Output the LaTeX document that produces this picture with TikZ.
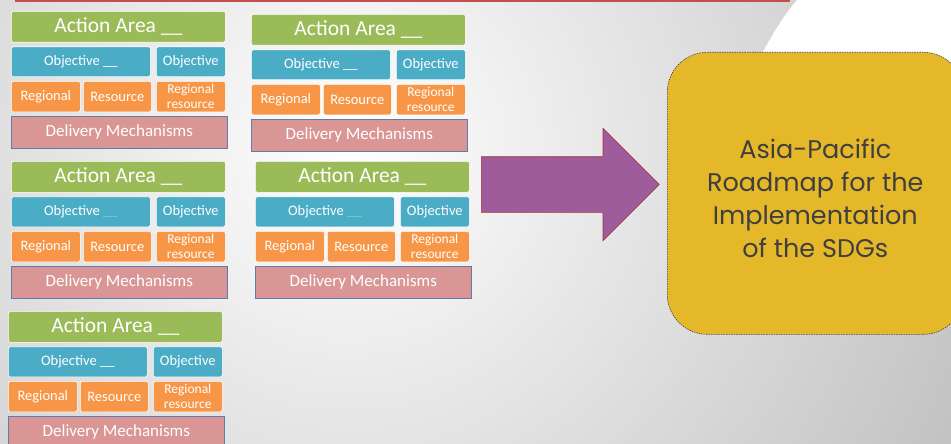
\documentclass[tikz,border=0pt]{standalone}
\usepackage{fontspec}
\setmainfont{Carlito}
\newfontfamily\gothic{Poppins}
\usetikzlibrary{shapes.arrows}

\definecolor{areagreen}{HTML}{9BBB59}
\definecolor{objblue}{HTML}{4BACC6}
\definecolor{resorange}{HTML}{F79646}
\definecolor{delpink}{HTML}{D99694}
\definecolor{delborder}{HTML}{5F7DA8}
\definecolor{arrowpurple}{HTML}{9E5C9A}
\definecolor{arrowborder}{HTML}{A3343C}
\definecolor{roadyellow}{HTML}{E5B82A}
\definecolor{roadtext}{HTML}{3F3F3F}
\definecolor{topred}{HTML}{C0504D}

\tikzset{
    tile/.style={anchor=north west, inner sep=0pt, text=white, align=center,
        draw=white, line width=0.6pt, rounded corners=1.5pt},
    area/.style={tile, fill=areagreen, minimum width=214pt, minimum height=31pt,
        font=\fontsize{21.5}{23}\selectfont},
    objective/.style={tile, fill=objblue, minimum height=30pt,
        font=\fontsize{14.5}{16}\selectfont},
    resource/.style={tile, fill=resorange, minimum height=30.5pt,
        font=\fontsize{14.5}{15.5}\selectfont},
    delivery/.style={tile, fill=delpink, draw=delborder, rounded corners=0pt,
        minimum width=216pt, minimum height=31.5pt, font=\fontsize{17}{18}\selectfont},
}

\begin{document}
\begin{tikzpicture}[x=1pt, y=-1pt]
    \useasboundingbox (0, 0) rectangle (951, 444);
    \begin{scope}
        \clip (0, 0) rectangle (951, 444);
        \shade[inner color=white, outer color=gray!50] (350, 150) circle (700);
        \fill[white] (797, 0) .. controls (775, 25) and (745, 80) .. (720, 150)
            -- (951, 300) -- (951, 0) -- cycle;
        \fill[topred] (15, 0) rectangle (790, 2);
    \end{scope}
    % one block per action area
    \foreach \n/\bx/\by/\u in {1/11/11/white, 2/251/14/white, 3/11/161/objblue!70!white,
            4/255/161/objblue!70!white, 5/8/311/white} {
        \node[area] (area \n) at (\bx, \by) {Action Area \_\_};
        \node[objective, minimum width=139pt] (objective \n) at (\bx, \by+35.5)
            {Objective {\color{\u}\_\_}};
        \node[objective, minimum width=69pt] (objective b\n) at (\bx+145, \by+35.5) {Objective};
        \node[resource, minimum width=69pt] (regional \n) at (\bx, \by+70) {Regional};
        \node[resource, minimum width=68pt] (resource \n) at (\bx+72, \by+70) {Resource};
        \node[resource, minimum width=69pt, font=\fontsize{13.5}{15}\selectfont]
            (regional resource \n) at (\bx+145, \by+70) {Regional\\resource};
        \node[delivery] (delivery \n) at (\bx, \by+105) {Delivery Mechanisms};
    }
    \node[single arrow, anchor=tail, fill=arrowpurple, draw=arrowborder, line width=0.6pt,
        inner xsep=0pt, inner ysep=27.5pt, minimum height=178pt, minimum width=112pt,
        single arrow head extend=28.5pt, single arrow tip angle=90] (arrow) at (481, 184.5) {};
    \node[anchor=north west, fill=roadyellow, draw=roadtext, line width=0.6pt,
        dash pattern=on 1.5pt off 1pt, rounded corners=40pt, minimum width=296pt,
        minimum height=282pt, align=center, text=roadtext,
        font=\gothic\fontsize{25.5}{33}\selectfont] (roadmap) at (667, 52)
        {\rule{0pt}{29pt}Asia-Pacific\\Roadmap for the\\Implementation\\of the SDGs};
\end{tikzpicture}
\end{document}
